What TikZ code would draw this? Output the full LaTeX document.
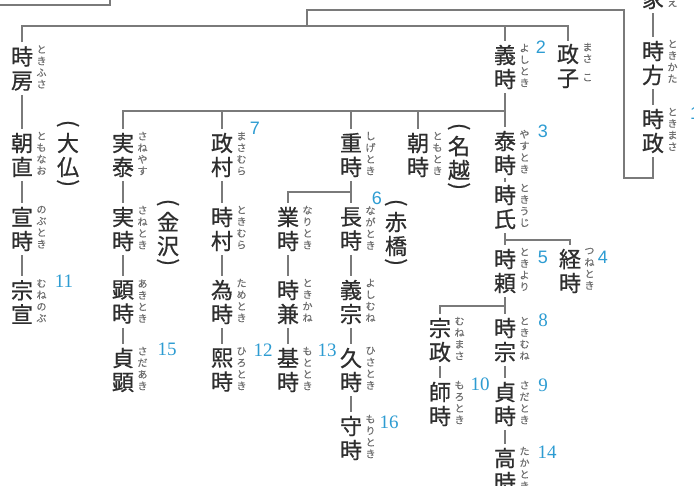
\documentclass[tikz,border=0pt]{standalone}
\usepackage{fontspec}
\usepackage{graphicx}
\newfontfamily\kjfont{Noto Sans CJK JP}[FakeBold=0.7]
\newfontfamily\furifont{Noto Sans CJK JP}[FakeBold=0.3]
\newfontfamily\numsans{Liberation Sans}
\newfontfamily\numserif{Liberation Serif}
\usetikzlibrary{positioning}
\definecolor{txt}{HTML}{2E2E2E}
\definecolor{lgray}{HTML}{7A7A7A}
\definecolor{fgray}{HTML}{6E6E6E}
\definecolor{nblue}{HTML}{2D9CD2}
\tikzset{
 kanji/.style={font=\kjfont\fontsize{22}{24}\selectfont, align=center, inner sep=0pt, text=txt},
 paren/.style={font=\kjfont\fontsize{22}{24}\selectfont, inner sep=0pt, text=txt},
 furi/.style={font=\furifont\fontsize{10}{11.6}\selectfont, align=center, inner sep=0pt, text=fgray, anchor=north},
 nums/.style={font=\numsans\fontsize{18}{18}\selectfont, text=nblue, inner sep=0pt},
 numr/.style={font=\numserif\fontsize{19}{19}\selectfont, text=nblue, inner sep=0pt},
 ln/.style={draw=lgray, line width=1.6pt},
 gap/.style={shorten <=4pt, shorten >=4pt},
}
\newcommand\hperson[5]{%
 \node[kanji] (#1) at (#2,#3) {#4};
 \node[furi] (#1-f) at ([xshift=19.5pt,yshift=1pt]#1.north) {#5};}
\newcommand\hbranch[4]{%
 \node[kanji] (#1) at (#2,#3) {#4};
 \node[paren, above=2pt of #1] (#1-a) {\rotatebox[origin=c]{-90}{(}};
 \node[paren, below=2pt of #1] (#1-b) {\rotatebox[origin=c]{-90}{)}};}
\begin{document}
\begin{tikzpicture}[x=1pt,y=-1pt]
\useasboundingbox (0,0) rectangle (694,485);
\fill[white] (0,0) rectangle (694,485);
\clip (0,0) rectangle (694,485);

% top-left box fragment
\draw[ln] (-20,-40) rectangle (110,5);

% bars
\coordinate (bar1) at (0,26);
\coordinate (bar2) at (0,111);
\coordinate (bar3) at (0,192);
\coordinate (bar4) at (0,240);
\coordinate (bar5) at (0,306);
\coordinate (j1) at (307,26);
\coordinate (b1) at (624,10);
\coordinate (b2) at (624,178);

% right column
\hperson{tokiie}{653}{-13}{時\\家}{と\\き\\い\\え}
\hperson{tokikata}{653}{63}{時\\方}{と\\き\\か\\た}
\hperson{tokimasa}{653}{131}{時\\政}{と\\き\\ま\\さ}
\node[nums] (n1) at (695,113) {1};

% column A
\hperson{tokifusa}{22}{68.5}{時\\房}{と\\き\\ふ\\さ}
\hperson{tomonao}{22}{155}{朝\\直}{と\\も\\な\\お}
\hperson{nobutoki}{22}{229}{宣\\時}{の\\ぶ\\と\\き}
\hperson{munenobu}{22}{302}{宗\\宣}{む\\ね\\の\\ぶ}
\node[numr] (n11) at (64,281) {11};
\hbranch{osaragi}{68}{155}{大\\仏}

% column B
\hperson{saneyasu}{123}{155}{実\\泰}{さ\\ね\\や\\す}
\hperson{sanetoki}{123}{229}{実\\時}{さ\\ね\\と\\き}
\hperson{akitoki}{123}{302}{顕\\時}{あ\\き\\と\\き}
\hperson{sadaaki}{123}{370}{貞\\顕}{さ\\だ\\あ\\き}
\node[numr] (n15) at (167,349) {15};
\hbranch{kanazawa}{168}{234}{金\\沢}

% column C
\hperson{masamura}{222}{155}{政\\村}{ま\\さ\\む\\ら}
\node[nums] (n7) at (255,128) {7};
\hperson{tokimura}{222}{229}{時\\村}{と\\き\\む\\ら}
\hperson{tametoki}{222}{302}{為\\時}{た\\め\\と\\き}
\hperson{hirotoki}{222}{370}{熙\\時}{ひ\\ろ\\と\\き}
\node[numr] (n12) at (263,350) {12};

% column D
\hperson{shigetoki}{351}{155}{重\\時}{し\\げ\\と\\き}
\hperson{naritoki}{288}{229}{業\\時}{な\\り\\と\\き}
\hperson{nagatoki}{351}{229}{長\\時}{な\\が\\と\\き}
\node[nums] (n6) at (377,198) {6};
\hbranch{akahashi}{396}{234}{赤\\橋}
\hperson{tokikane}{288}{302}{時\\兼}{と\\き\\か\\ね}
\hperson{yoshimune}{351}{302}{義\\宗}{よ\\し\\む\\ね}
\hperson{mototoki}{288}{370}{基\\時}{も\\と\\と\\き}
\node[numr] (n13) at (327,350) {13};
\hperson{hisatoki}{351}{370}{久\\時}{ひ\\さ\\と\\き}
\hperson{moritoki}{351}{438}{守\\時}{も\\り\\と\\き}
\node[numr] (n16) at (389,422) {16};

% column E
\hperson{tomotoki}{418}{155}{朝\\時}{と\\も\\と\\き}
\hbranch{nagoe}{459}{158}{名\\越}

% column F
\hperson{yoshitoki}{505}{67}{義\\時}{よ\\し\\と\\き}
\node[nums] (n2) at (541,47) {2};
\hperson{masako}{568}{66}{政\\子}{ま\\さ\\[7pt]こ}
\hperson{yasutoki}{505}{153}{泰\\時}{や\\す\\と\\き}
\node[nums] (n3) at (543,131) {3};
\hperson{tokiuji}{505}{207}{時\\氏}{と\\き\\う\\じ}
\hperson{tokiyori}{505}{271}{時\\頼}{と\\き\\よ\\り}
\node[nums] (n5) at (543,257) {5};
\hperson{tsunetoki}{570}{271}{経\\時}{つ\\ね\\と\\き}
\node[nums] (n4) at (603,257) {4};
\hperson{munemasa}{440}{340}{宗\\政}{む\\ね\\ま\\さ}
\hperson{tokimune}{505}{340}{時\\宗}{と\\き\\む\\ね}
\node[numr] (n8) at (543,320) {8};
\hperson{morotoki}{440}{404}{師\\時}{も\\ろ\\と\\き}
\node[numr] (n10) at (480,384) {10};
\hperson{sadatoki}{505}{404}{貞\\時}{さ\\だ\\と\\き}
\node[numr] (n9) at (543,385) {9};
\hperson{takatoki}{505}{470}{高\\時}{た\\か\\と\\き}
\node[numr] (n14) at (547,452) {14};

% connectors: top
\draw[ln] ([yshift=4pt]tokifusa.north) |- (bar1 -| masako) -- ([yshift=3pt]masako.north);
\draw[ln] (bar1 -| yoshitoki) -- ([yshift=4pt]yoshitoki.north);
\draw[ln] (j1) |- (b1) -- (b2) -| ([yshift=-4pt]tokimasa.south);
\draw[ln,gap] (tokiie.south) -- (tokikata.north);
\draw[ln,gap] (tokikata.south) -- (tokimasa.north);

% column A
\draw[ln,gap] (tokifusa.south) -- (tomonao.north);
\draw[ln,gap] (tomonao.south) -- (nobutoki.north);
\draw[ln,gap] (nobutoki.south) -- (munenobu.north);

% bar2 (children of yoshitoki)
\draw[ln] ([yshift=4pt]saneyasu.north) |- (bar2 -| yoshitoki);
\draw[ln] (bar2 -| masamura) -- ([yshift=4pt]masamura.north);
\draw[ln] (bar2 -| shigetoki) -- ([yshift=4pt]shigetoki.north);
\draw[ln] (bar2 -| tomotoki) -- ([yshift=4pt]tomotoki.north);
\draw[ln,gap] (yoshitoki.south) -- (yasutoki.north);

% column B
\draw[ln,gap] (saneyasu.south) -- (sanetoki.north);
\draw[ln,gap] (sanetoki.south) -- (akitoki.north);
\draw[ln,gap] (akitoki.south) -- (sadaaki.north);

% column C
\draw[ln,gap] (masamura.south) -- (tokimura.north);
\draw[ln,gap] (tokimura.south) -- (tametoki.north);
\draw[ln,gap] (tametoki.south) -- (hirotoki.north);

% column D
\draw[ln,gap] (shigetoki.south) -- (nagatoki.north);
\draw[ln] (bar3 -| shigetoki) -| ([yshift=4pt]naritoki.north);
\draw[ln,gap] (naritoki.south) -- (tokikane.north);
\draw[ln,gap] (tokikane.south) -- (mototoki.north);
\draw[ln,gap] (nagatoki.south) -- (yoshimune.north);
\draw[ln,gap] (yoshimune.south) -- (hisatoki.north);
\draw[ln,gap] (hisatoki.south) -- (moritoki.north);

% column F
\draw[ln,shorten <=2.5pt,shorten >=2.5pt] (yasutoki.south) -- (tokiuji.north);
\draw[ln,gap] (tokiuji.south) -- (tokiyori.north);
\draw[ln] (bar4 -| tokiyori) -| ([yshift=4pt]tsunetoki.north);
\draw[ln,gap] (tokiyori.south) -- (tokimune.north);
\draw[ln] (bar5 -| tokimune) -| ([yshift=4pt]munemasa.north);
\draw[ln,gap] (munemasa.south) -- (morotoki.north);
\draw[ln,gap] (tokimune.south) -- (sadatoki.north);
\draw[ln,gap] (sadatoki.south) -- (takatoki.north);
\end{tikzpicture}
\end{document}
